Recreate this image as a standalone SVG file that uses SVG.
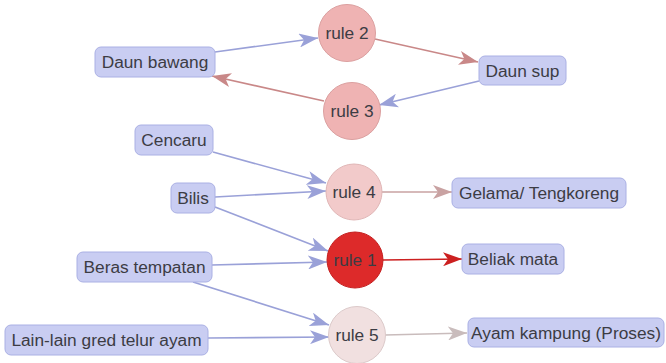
<svg xmlns="http://www.w3.org/2000/svg" width="666" height="363" viewBox="0 0 666 363">
<style>
.box{fill:#c9cdf2;stroke:#aab0e4;stroke-width:1}
.t{font-family:"Liberation Sans",Arial,sans-serif;font-size:17.3px;fill:#3c3c44;text-anchor:middle;dominant-baseline:central}
.e{fill:none;stroke-width:1.6}
.b{stroke:#9aa1d8}
</style>
<defs>
<marker id="ab" markerUnits="userSpaceOnUse" markerWidth="20" markerHeight="14" refX="19" refY="7" orient="auto"><path d="M0,0 L19,7 L0,14 L5,7 Z" fill="#9aa1d8"/></marker>
<marker id="a2" markerUnits="userSpaceOnUse" markerWidth="20" markerHeight="14" refX="19" refY="7" orient="auto"><path d="M0,0 L19,7 L0,14 L5,7 Z" fill="#c98888"/></marker>
<marker id="a4" markerUnits="userSpaceOnUse" markerWidth="20" markerHeight="14" refX="19" refY="7" orient="auto"><path d="M0,0 L19,7 L0,14 L5,7 Z" fill="#c9a2a2"/></marker>
<marker id="a1" markerUnits="userSpaceOnUse" markerWidth="20" markerHeight="14" refX="19" refY="7" orient="auto"><path d="M0,0 L19,7 L0,14 L5,7 Z" fill="#cc2020"/></marker>
<marker id="a5" markerUnits="userSpaceOnUse" markerWidth="20" markerHeight="14" refX="19" refY="7" orient="auto"><path d="M0,0 L19,7 L0,14 L5,7 Z" fill="#c9bcbc"/></marker>
</defs>
<g id="connectors">
<line class="e b" x1="215" y1="52" x2="318" y2="38" marker-end="url(#ab)"/>
<line class="e" stroke="#c98888" x1="375" y1="39" x2="478" y2="62" marker-end="url(#a2)"/>
<line class="e b" x1="479" y1="81" x2="379" y2="105" marker-end="url(#ab)"/>
<line class="e" stroke="#c98888" x1="324" y1="101" x2="212" y2="76" marker-end="url(#a2)"/>
<line class="e b" x1="213" y1="152" x2="326" y2="183" marker-end="url(#ab)"/>
<line class="e b" x1="215" y1="197" x2="326" y2="191" marker-end="url(#ab)"/>
<line class="e b" x1="215" y1="207" x2="328" y2="251" marker-end="url(#ab)"/>
<line class="e b" x1="212" y1="265" x2="327" y2="262" marker-end="url(#ab)"/>
<line class="e b" x1="193" y1="282" x2="329" y2="325" marker-end="url(#ab)"/>
<line class="e b" x1="208" y1="338" x2="329" y2="337" marker-end="url(#ab)"/>
<line class="e" stroke="#c9a2a2" x1="381" y1="192" x2="452" y2="192" marker-end="url(#a4)"/>
<line class="e" stroke="#cc2020" x1="383" y1="260" x2="462" y2="259" marker-end="url(#a1)"/>
<line class="e" stroke="#c9bcbc" x1="385" y1="335" x2="467" y2="333" marker-end="url(#a5)"/>
</g>
<g id="rule2"><circle cx="347" cy="33" r="28.5" fill="#efb3b3" stroke="#dba0a0"/><text class="t" x="347" y="33">rule 2</text></g>
<g id="rule3"><circle cx="352" cy="111" r="28.5" fill="#efb3b3" stroke="#dba0a0"/><text class="t" x="352" y="111">rule 3</text></g>
<g id="rule4"><circle cx="354" cy="192" r="28" fill="#f2caca" stroke="#e0b6b6"/><text class="t" x="354" y="192">rule 4</text></g>
<g id="rule1"><circle cx="355" cy="260" r="28" fill="#dd2a2a" stroke="#c42020"/><text class="t" x="355" y="260">rule 1</text></g>
<g id="rule5"><circle cx="357" cy="335" r="28.5" fill="#f1e0e0" stroke="#dccaca"/><text class="t" x="357" y="335">rule 5</text></g>
<g id="daun-bawang"><rect class="box" x="95" y="47" width="120" height="30" rx="6"/><text class="t" x="155" y="62">Daun bawang</text></g>
<g id="daun-sup"><rect class="box" x="479" y="56" width="87" height="29" rx="6"/><text class="t" x="522.5" y="70.5">Daun sup</text></g>
<g id="cencaru"><rect class="box" x="135" y="125" width="78" height="30" rx="6"/><text class="t" x="174" y="140">Cencaru</text></g>
<g id="bilis"><rect class="box" x="171" y="183" width="44" height="30" rx="6"/><text class="t" x="193" y="198">Bilis</text></g>
<g id="gelama"><rect class="box" x="452" y="178" width="174" height="30" rx="6"/><text class="t" x="539" y="193">Gelama/ Tengkoreng</text></g>
<g id="beliak-mata"><rect class="box" x="462" y="244" width="102" height="30" rx="6"/><text class="t" x="513" y="259">Beliak mata</text></g>
<g id="beras-tempatan"><rect class="box" x="77" y="252" width="135" height="30" rx="6"/><text class="t" x="144.5" y="267">Beras tempatan</text></g>
<g id="lain-lain"><rect class="box" x="5" y="325" width="203" height="30" rx="6"/><text class="t" x="106.5" y="340">Lain-lain gred telur ayam</text></g>
<g id="ayam-kampung"><rect class="box" x="468" y="318" width="196" height="29" rx="6"/><text class="t" x="566" y="332.5">Ayam kampung (Proses)</text></g>
</svg>
